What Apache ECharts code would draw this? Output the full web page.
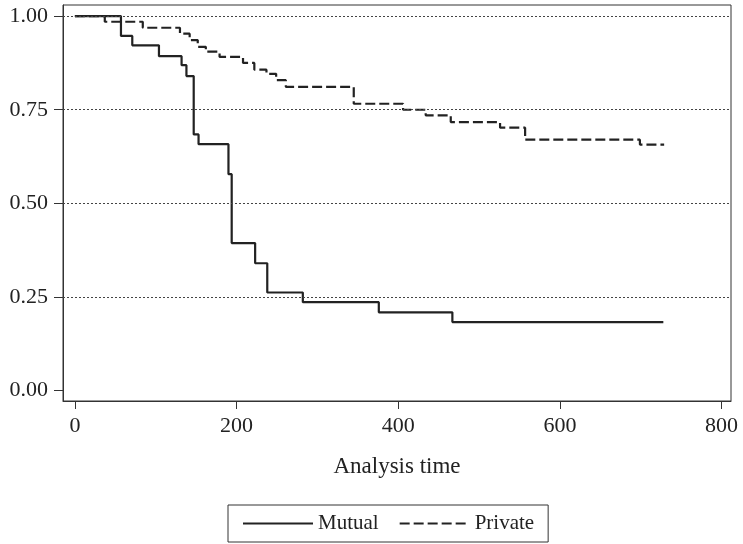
<!DOCTYPE html>
<html>
<head>
<meta charset="utf-8">
<script src="https://cdn.jsdelivr.net/npm/echarts@6/dist/echarts.min.js"></script>
<style>
  html, body { margin: 0; padding: 0; background: #fff; }
  #chart { width: 743px; height: 544px; }
</style>
</head>
<body>
<div id="chart"></div>
<script>
// survival estimates (time, proportion)
const mutualTime = [0, 57, 71, 104, 132, 138, 147, 153, 190, 194, 223, 238, 282, 376, 467, 728];
const mutualSurv = [1, 0.947, 0.922, 0.893, 0.869, 0.84, 0.684, 0.658, 0.578, 0.394, 0.34, 0.262, 0.236, 0.209, 0.183, 0.183];
const privateTime = [0, 37, 84, 130, 142, 152, 162, 179, 208, 222, 237, 249, 261, 345, 406, 434, 465, 526, 557, 699, 729];
const privateSurv = [1, 0.985, 0.969, 0.953, 0.936, 0.918, 0.905, 0.891, 0.875, 0.857, 0.846, 0.829, 0.811, 0.766, 0.75, 0.735, 0.717, 0.702, 0.67, 0.657, 0.657];
const xTicks = [0, 200, 400, 600, 800];
const yTicks = [0, 0.25, 0.5, 0.75, 1];
const gridValues = [0.25, 0.5, 0.75, 1];

const font = "Liberation Serif";
const chart = echarts.init(document.getElementById("chart"));

const toPairs = (t, s) => t.map((v, i) => [v, s[i]]);

chart.setOption({
  animation: false,
  backgroundColor: "#fff",
  grid: {
    left: 63, right: 12, top: 5, bottom: 143,
    show: true, borderColor: "#333", borderWidth: 1
  },
  legend: {
    left: 228, top: 505,
    padding: [8, 14],
    borderColor: "#333", borderWidth: 1, borderRadius: 0,
    itemWidth: 70, itemHeight: 10, itemGap: 20,
    itemStyle: { opacity: 0 },
    textStyle: { fontFamily: font, fontSize: 21, color: "#222" },
    data: ["Mutual", "Private"]
  },
  xAxis: {
    type: "value",
    min: -14.7, max: 811.7,
    name: "Analysis time",
    nameLocation: "middle",
    nameGap: 54,
    nameTextStyle: { fontFamily: font, fontSize: 23, color: "#222" },
    axisLine: { onZero: false, lineStyle: { color: "#333", width: 1 } },
    axisTick: { show: true, length: 8, customValues: xTicks, lineStyle: { color: "#333" } },
    axisLabel: { customValues: xTicks, margin: 14, fontFamily: font, fontSize: 22, color: "#222" },
    splitLine: { show: false }
  },
  yAxis: {
    type: "value",
    min: -0.0278, max: 1.0297,
    axisLine: { show: true, onZero: false, lineStyle: { color: "#333", width: 1 } },
    axisTick: { show: true, length: 9, customValues: yTicks, lineStyle: { color: "#333" } },
    axisLabel: {
      customValues: yTicks, margin: 15, fontFamily: font, fontSize: 22, color: "#222",
      formatter: v => v.toFixed(2)
    },
    splitLine: { show: false }
  },
  series: [
    {
      name: "Mutual",
      type: "line",
      step: "end",
      symbol: "none",
      data: toPairs(mutualTime, mutualSurv),
      lineStyle: { color: "#222", width: 2.2 },
      itemStyle: { color: "#222" },
      markLine: {
        silent: true,
        symbol: "none",
        label: { show: false },
        lineStyle: { color: "#444", width: 1, type: [2, 2] },
        data: gridValues.map(v => ({ yAxis: v }))
      },
      z: 3
    },
    {
      name: "Private",
      type: "line",
      step: "end",
      symbol: "none",
      data: toPairs(privateTime, privateSurv),
      lineStyle: { color: "#222", width: 2.2, type: [10, 4] },
      itemStyle: { color: "#222" },
      z: 3
    }
  ]
});
</script>
</body>
</html>
